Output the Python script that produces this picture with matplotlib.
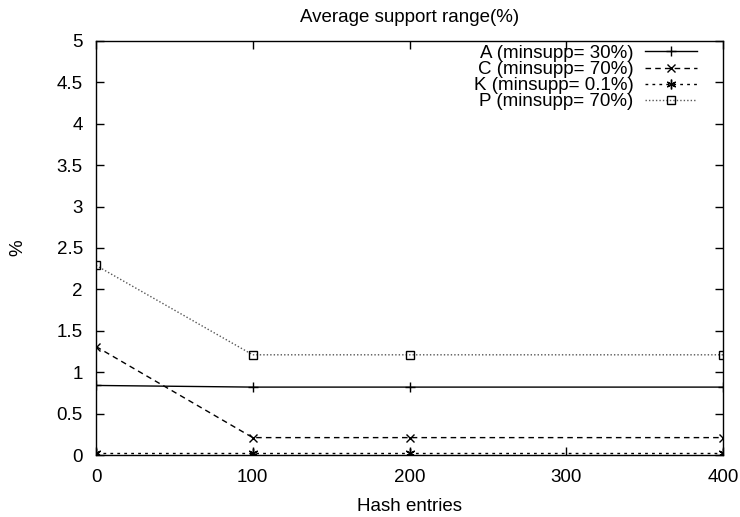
import matplotlib
matplotlib.use("Agg")
import matplotlib.pyplot as plt

plt.rcParams['font.family'] = ['Liberation Sans', 'DejaVu Sans']
plt.rcParams['font.size'] = 13.5

hash_entries = [0, 100, 200, 400]
a_vals = [0.84, 0.82, 0.82, 0.82]
c_vals = [1.31, 0.21, 0.21, 0.21]
k_vals = [0.02, 0.02, 0.02, 0.02]
p_vals = [2.29, 1.21, 1.21, 1.21]

labels = ['A (minsupp= 30%)', 'C (minsupp= 70%)', 'K (minsupp= 0.1%)', 'P (minsupp= 70%)']
yticks = [0, 0.5, 1, 1.5, 2, 2.5, 3, 3.5, 4, 4.5, 5]
ytick_labels = ['0', '0.5', '1', '1.5', '2', '2.5', '3', '3.5', '4', '4.5', '5']

fig = plt.figure(figsize=(7.4, 5.17), dpi=100)
# plot box in pixels: left 96, right 723, top 41, bottom 455
ax = fig.add_axes([96 / 740, 62 / 517, 627 / 740, 414 / 517])

ax.plot(hash_entries, a_vals, color='black', lw=1, ls='-', marker='+', ms=7, mew=1, label=labels[0])
ax.plot(hash_entries, c_vals, color='black', lw=1, ls=(0, (4, 3)), marker='x', ms=6, mew=1, label=labels[1])
ax.plot(hash_entries, k_vals, color='black', lw=1, ls=(0, (2, 3)), marker=(6, 2, 0), ms=7, mew=1, label=labels[2])
ax.plot(hash_entries, p_vals, color='#555555', lw=1, ls=(0, (1, 1.5)), marker='s', ms=6, mew=1,
        mfc='none', mec='black', label=labels[3])

ax.set_xlim(0, 400)
ax.set_ylim(0, 5)
ax.set_xticks([0, 100, 200, 300, 400])
ax.set_yticks(yticks)
ax.set_yticklabels(ytick_labels)
ax.tick_params(direction='in', length=6, width=1, top=True, right=True, labelsize=13.5)
ax.tick_params(axis='x', pad=10)
ax.tick_params(axis='y', pad=9.4)
for s in ax.spines.values():
    s.set_linewidth(1)

ax.set_xlabel('Hash entries', fontsize=13.5, va='baseline')
ax.xaxis.set_label_coords(0.5, -(511 - 455) / 414)
ax.set_ylabel('%', fontsize=13.5, va='center')
ax.yaxis.set_label_coords(-(96 - 18) / 627, 0.5)
ax.set_title('Average support range(%)', fontsize=13.5, y=1 + (41 - 21.7) / 414, pad=0, va='baseline')

ax.legend(loc='upper right', bbox_to_anchor=((701 - 96) / 627, 1.0), frameon=False, markerfirst=False,
          handlelength=2.77, handletextpad=0.64, labelspacing=-0.05, borderaxespad=0, borderpad=0.2,
          fontsize=13.5)

fig.savefig('out.png', dpi=100)
